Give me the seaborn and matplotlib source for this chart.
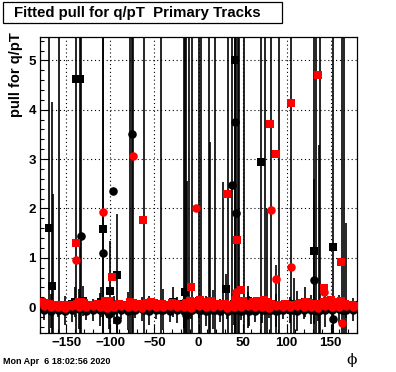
import numpy as np
import pandas as pd
import matplotlib.pyplot as plt
import seaborn as sns
from matplotlib.patches import Rectangle
from matplotlib.ticker import MultipleLocator

# bin centres: 4 deg bins for the dense red profile, 8 deg for the others
phi_fine = np.arange(-178, 180, 4)
phi_coarse = np.arange(-176, 180, 8)

# red squares, bulk of the profile (close to zero)
rs_base = [0.10, 0.08, 0.06, 0.05, 0.04, 0.05, 0.04, 0.03, 0.05, 0.04,
           0.06, 0.10, 0.08, 0.05, 0.04, 0.05, 0.06, 0.04, 0.08, 0.12,
           0.05, 0.04, 0.06, 0.05, 0.04, 0.10, 0.08, 0.05, 0.06, 0.04,
           0.08, 0.11, 0.09, 0.07, 0.06, 0.05, 0.04, 0.08, 0.06, 0.05,
           0.04, 0.09, 0.12, 0.08, 0.10, 0.14, 0.06, 0.10, 0.12, 0.06,
           0.05, 0.07, 0.06, 0.05, 0.04, 0.06, 0.10, 0.12, 0.06, 0.05,
           0.10, 0.12, 0.08, 0.14, 0.10, 0.06, 0.05, 0.04, 0.05, 0.06,
           0.04, 0.05, 0.04, 0.06, 0.08, 0.10, 0.08, 0.06, 0.04, 0.06,
           0.10, 0.12, 0.14, 0.10, 0.08, 0.12, 0.06, 0.05, 0.04, 0.03]
# red circles, bulk
rc_base = [0.02, 0.00, 0.01, -0.01, 0.02, 0.00, 0.01, 0.03, 0.00, -0.02,
           0.01, 0.02, 0.00, 0.01, -0.01, 0.02, 0.00, 0.01, 0.03, 0.00,
           0.01, -0.01, 0.02, 0.00, 0.01, 0.02, -0.02, 0.00, 0.01, 0.02,
           0.00, 0.01, -0.01, 0.02, 0.00, 0.01, 0.03, 0.00, 0.01, -0.01,
           0.02, 0.00, 0.01, 0.02, 0.00]
# black circles, bulk, with their errors
bc_base = [-0.06, -0.08, -0.05, -0.07, -0.06, -0.04, -0.08, -0.06, -0.05, -0.07,
           -0.06, -0.05, -0.08, -0.06, -0.04, -0.07, -0.06, -0.05, -0.08, -0.06,
           -0.07, -0.05, -0.06, -0.08, -0.05, -0.07, -0.06, -0.05, -0.07, -0.06,
           -0.08, -0.05, -0.06, -0.07, -0.05, -0.06, -0.08, -0.06, -0.05, -0.07,
           -0.06, -0.05, -0.04, -0.06, -0.05]
bc_base_err = [0.20, 0.35, 0.15, 0.30, 0.25, 0.40, 0.18, 0.22, 0.33, 0.15,
               0.28, 0.20, 0.38, 0.16, 0.25, 0.30, 0.18, 0.42, 0.22, 0.26,
               0.35, 0.20, 0.15, 0.30, 0.40, 0.24, 0.18, 0.32, 0.20, 0.36,
               0.22, 0.28, 0.15, 0.34, 0.20, 0.26, 0.40, 0.18, 0.30, 0.22,
               0.35, 0.20, 0.28, 0.16, 0.24]
# black squares, bulk
bs_base = [0.04, 0.02, 0.05, 0.03, 0.06, 0.02, 0.04, 0.05, 0.03, 0.02,
           0.05, 0.04, 0.03, 0.06, 0.02, 0.04, 0.03, 0.05, 0.02, 0.04,
           0.06, 0.03, 0.04, 0.02, 0.05, 0.03, 0.04, 0.06, 0.02, 0.05,
           0.03, 0.04, 0.02, 0.05, 0.03, 0.06, 0.04, 0.02, 0.05, 0.03,
           0.04, 0.02, 0.05, 0.03, 0.04]

# black squares away from the bulk (phi, pull, error)
bs_phi = [-169.7, -166.3, -139, -135, -109, -100, -92.3, -139.7, -131, -110.8,
          -78, -28.5, -14.8, 0, 31.5, 41, 56, 70.6, 121.5, 130.6, 152.3]
bs_val = [1.61, 0.42, 4.62, 4.62, 1.58, 0.32, 0.65, 0.11, 0.12, 0.11,
          0.11, 0.10, 0.30, 0.12, 0.37, 5.01, 0.12, 2.95, 0.10, 1.13, 1.22]
bs_err = [9.0, 3.74, 9.0, 9.0, 9.0, 1.02, 1.23, 0.30, 0.30, 0.30,
          9.0, 0.30, 9.0, 9.0, 0.30, 9.0, 0.30, 9.0, 0.30, 1.47, 9.0]

# black circles away from the bulk
bc_phi = [-165.5, -158, -134, -107.9, -101.8, -97.2, -93, -76, -74, -62.3,
          -42.5, -17, -14.4, -13.3, -10.6, -7.6, 3, 11.4, 13.3, 19,
          27.7, 33, 37.6, 41.7, 42.5, 44.5, 46.5, 51.3, 57, 76,
          77.8, 82.8, 88.5, 91, 105.1, 108, 130.6, 134, 136.5, 138.5,
          152.6, 163, 165, 167]
bc_val = [0.05, -0.06, 1.45, 1.09, -0.14, 2.36, -0.26, 3.50, -0.05, -0.06,
          -0.05, -0.06, -0.16, 0.00, -0.06, -0.05, -0.06, -0.05, 0.00, -0.06,
          0.00, -0.07, 2.47, 3.75, 1.90, -0.05, -0.06, -0.05, -0.08, -0.06,
          0.00, -0.05, 0.00, -0.06, -0.05, 0.00, 0.55, -0.06, 0.00, -0.05,
          -0.25, -0.06, -0.05, 0.00]
bc_err = [2.24, 9.0, 9.0, 9.0, 0.30, 0.0, 0.30, 9.0, 9.0, 9.0,
          9.0, 9.0, 9.0, 2.56, 9.0, 9.0, 9.0, 9.0, 3.35, 9.0,
          2.53, 9.0, 9.0, 9.0, 9.0, 9.0, 9.0, 9.0, 0.30, 9.0,
          1.99, 9.0, 0.86, 9.0, 9.0, 0.59, 9.0, 9.0, 3.28, 9.0,
          0.30, 9.0, 9.0, 1.71]

# red points away from the bulk
rs_phi = [-138.6, -136, -106, -98, -63, -8, 31.9, 43.3, 48.6, 81.6, 87.7, 104.8, 135.5, 142, 161.7]
rs_val = [1.29, 0.10, 0.12, 0.62, 1.77, 0.40, 2.30, 1.36, 0.34, 3.72, 3.11, 4.13, 4.71, 0.39, 0.91]
rc_phi = [-138.6, -109, -74, -3, 41, 43, 82.4, 88, 105, 142, 163]
rc_val = [0.96, 1.92, 3.06, 2.00, 0.18, 0.31, 1.97, 0.57, 0.82, 0.31, -0.33]

plt.rcParams['font.family'] = ['Liberation Sans', 'DejaVu Sans']
plt.rcParams['font.weight'] = 'bold'

W, H = 396, 372
fig = plt.figure(figsize=(W / 100, H / 100), dpi=100)
ax = fig.add_axes([40 / W, 38.7 / H, 317 / W, 296.6 / H])

black_sq = pd.DataFrame({'phi': list(phi_coarse) + bs_phi, 'pull': bs_base + bs_val})
black_ci = pd.DataFrame({'phi': list(phi_coarse) + bc_phi, 'pull': bc_base + bc_val,
                         'err': bc_base_err + bc_err})
red_ci = pd.DataFrame({'phi': list(phi_coarse) + rc_phi, 'pull': rc_base + rc_val})
red_sq = pd.DataFrame({'phi': list(phi_fine) + rs_phi, 'pull': rs_base + rs_val})

# error bars of the black profiles
ax.vlines(bs_phi, np.array(bs_val) - np.array(bs_err), np.array(bs_val) + np.array(bs_err),
          color='black', lw=1.2, zorder=2)
ax.vlines(black_ci['phi'], black_ci['pull'] - black_ci['err'], black_ci['pull'] + black_ci['err'],
          color='black', lw=1.2, zorder=2)

sq = dict(s=27, marker='s', linewidth=0, ax=ax, legend=False, zorder=3)
ci = dict(s=38, marker='o', linewidth=0, ax=ax, legend=False, zorder=3)
sns.scatterplot(data=black_sq, x='phi', y='pull', color='black', **sq)
sns.scatterplot(data=black_ci, x='phi', y='pull', color='black', **ci)
sns.scatterplot(data=red_ci, x='phi', y='pull', color='red', **ci)
sns.scatterplot(data=red_sq, x='phi', y='pull', color='red', **sq)

ax.set_xlim(-180, 180)
ax.set_ylim(-0.53, 5.48)
ax.xaxis.set_major_locator(MultipleLocator(50))
ax.xaxis.set_minor_locator(MultipleLocator(10))
ax.yaxis.set_major_locator(MultipleLocator(1))
ax.yaxis.set_minor_locator(MultipleLocator(0.2))
ax.grid(True, which='major', color='black', linestyle=(0, (1, 2.5)), lw=0.8)
ax.set_axisbelow(True)
ax.tick_params(which='major', direction='in', length=6.5, width=0.8, labelsize=9.6, pad=3,
               top=False, right=False)
ax.tick_params(which='minor', direction='in', length=3.2, width=0.8, top=False, right=False)
for sp in ax.spines.values():
    sp.set_linewidth(0.9)

ax.set_ylabel('pull for q/pT', loc='top', fontsize=10.5, fontweight='bold')
ax.yaxis.set_label_coords(-0.055, 1.016)
ax.set_xlabel('ϕ', loc='right', fontsize=11, family='DejaVu Serif', fontweight='normal')
ax.xaxis.set_label_coords(1.0, -0.065)

fig.patches.append(Rectangle((3 / W, 1 - 23 / H), 279 / W, 21 / H, transform=fig.transFigure,
                             facecolor='white', edgecolor='black', lw=0.9))
fig.text(14 / W, 1 - 12.5 / H, 'Fitted pull for q/pT  Primary Tracks', fontsize=10.8,
         fontweight='bold', va='center', ha='left')
fig.text(3 / W, 1 - 362 / H, 'Mon Apr  6 18:02:56 2020', fontsize=6.5, fontweight='bold',
         va='center', ha='left')

fig.savefig('out.png', dpi=100)
